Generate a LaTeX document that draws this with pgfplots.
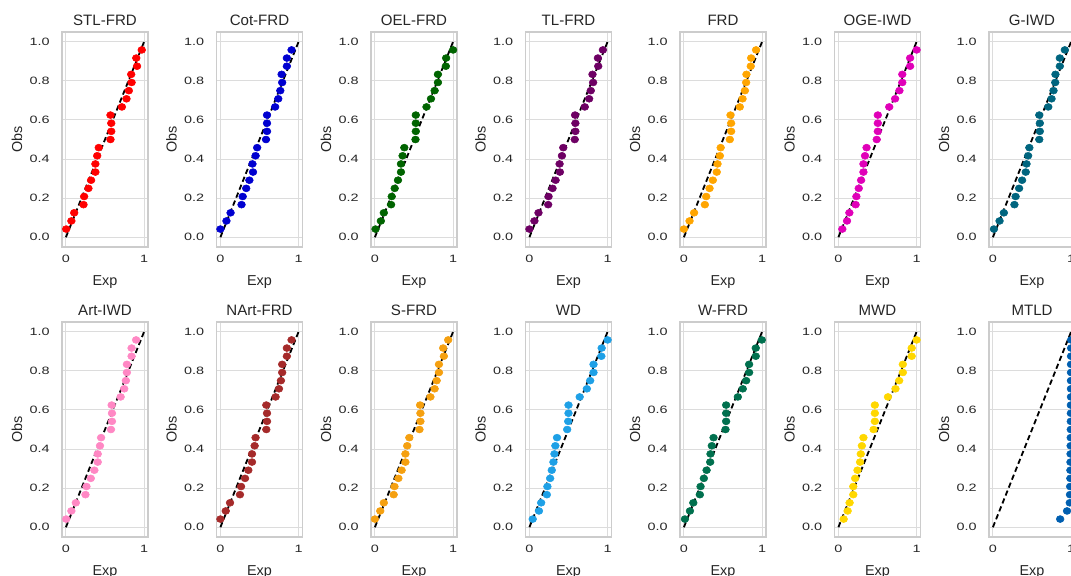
\documentclass[border=0pt]{standalone}
\usepackage{pgfplots}
\pgfplotsset{compat=1.18}
\usepackage{fontspec}
\setmainfont{Liberation Sans}
\newfontfamily\tickfont{Liberation Sans}[FakeStretch=1.35]

\definecolor{txt}{HTML}{262626}
\definecolor{gridc}{HTML}{DCDCDC}
\definecolor{framec}{HTML}{CCCCCC}
\definecolor{cSTL}{HTML}{FF0000}
\definecolor{cCot}{HTML}{0000D0}
\definecolor{cOEL}{HTML}{006400}
\definecolor{cTL}{HTML}{6E0064}
\definecolor{cFRD}{HTML}{FFA500}
\definecolor{cOGE}{HTML}{E000B8}
\definecolor{cG}{HTML}{00657F}
\definecolor{cArt}{HTML}{FF88C4}
\definecolor{cNArt}{HTML}{A52A2A}
\definecolor{cS}{HTML}{F5A010}
\definecolor{cWD}{HTML}{1EA0E6}
\definecolor{cW}{HTML}{00704E}
\definecolor{cMWD}{HTML}{FFD700}
\definecolor{cMTLD}{HTML}{005FB0}

\pgfplotsset{
  ppstyle/.style={
    scale only axis, width=64.5pt, height=161.25pt,
    anchor=north west,
    xmin=-0.05, xmax=1.05, ymin=-0.05, ymax=1.05,
    xtick={0,1}, ytick={0,0.2,0.4,0.6,0.8,1},
    /pgf/number format/assume math mode=true,
    yticklabel style={/pgf/number format/fixed, /pgf/number format/fixed zerofill, /pgf/number format/precision=1},
    ticklabel style={font=\tickfont\fontsize{8pt}{9pt}\selectfont, text=txt},
    yticklabel style={anchor=east, inner sep=0pt, xshift=-9pt},
    xticklabel style={anchor=north, inner sep=0pt, yshift=-6pt},
    major tick length=0pt, tick style={draw=none},
    grid=major, major grid style={color=gridc, line width=0.8pt},
    axis line style={color=framec, line width=1.1pt},
    title style={font=\fontsize{11.3pt}{12pt}\selectfont, text=txt, yshift=-4.5pt},
    xlabel=Exp, ylabel=Obs,
    label style={font=\fontsize{10.8pt}{12pt}\selectfont, text=txt},
    xlabel style={at={(axis description cs:0.5,0)}, anchor=north, yshift=-18pt},
    ylabel style={at={(axis description cs:-0.523,0.5)}, anchor=center},
  }
}

\newcommand{\panel}[5]{%
  \begin{axis}[ppstyle, at={(#1)}, title={#2}]
    \addplot[only marks, mark=*, color=#3, mark size=2.6pt, mark options={xscale=1.12}] coordinates {#4};
    \addplot[black, line width=1.35pt, dash pattern=on 4pt off 2.4pt] coordinates {(0,0) (1,1)};
  \end{axis}%
}

\begin{document}
\begin{tikzpicture}
% Row 1
\panel{46.5pt,-24pt}{STL-FRD}{cSTL}{(0.004,0.0417)(0.07,0.0833)(0.106,0.125)(0.225,0.1667)(0.233,0.2083)(0.288,0.25)(0.322,0.2917)(0.377,0.3333)(0.377,0.375)(0.40,0.4167)(0.42,0.4583)(0.57,0.5)(0.58,0.5417)(0.58,0.5833)(0.57,0.625)(0.716,0.6667)(0.775,0.7083)(0.805,0.75)(0.84,0.7917)(0.835,0.8333)(0.91,0.875)(0.90,0.9167)(0.97,0.9583)}{}
\panel{162.375pt,-24pt}{Cot-FRD}{cCot}{(0.0,0.0417)(0.077,0.0833)(0.13,0.125)(0.27,0.1667)(0.285,0.2083)(0.33,0.25)(0.37,0.2917)(0.417,0.3333)(0.41,0.375)(0.45,0.4167)(0.47,0.4583)(0.583,0.5)(0.596,0.5417)(0.596,0.5833)(0.596,0.625)(0.70,0.6667)(0.74,0.7083)(0.766,0.75)(0.79,0.7917)(0.783,0.8333)(0.85,0.875)(0.85,0.9167)(0.91,0.9583)}{}
\panel{278.25pt,-24pt}{OEL-FRD}{cOEL}{(0.008,0.0417)(0.076,0.0833)(0.114,0.125)(0.207,0.1667)(0.215,0.2083)(0.253,0.25)(0.295,0.2917)(0.333,0.3333)(0.333,0.375)(0.354,0.4167)(0.376,0.4583)(0.519,0.5)(0.523,0.5417)(0.523,0.5833)(0.523,0.625)(0.66,0.6667)(0.717,0.7083)(0.764,0.75)(0.806,0.7917)(0.806,0.8333)(0.907,0.875)(0.911,0.9167)(1.0,0.9583)}{}
\panel{394.125pt,-24pt}{TL-FRD}{cTL}{(0.0,0.0417)(0.064,0.0833)(0.116,0.125)(0.24,0.1667)(0.245,0.2083)(0.296,0.25)(0.335,0.2917)(0.39,0.3333)(0.386,0.375)(0.416,0.4167)(0.433,0.4583)(0.58,0.5)(0.588,0.5417)(0.588,0.5833)(0.584,0.625)(0.708,0.6667)(0.764,0.7083)(0.785,0.75)(0.815,0.7917)(0.807,0.8333)(0.88,0.875)(0.876,0.9167)(0.94,0.9583)}{}
\panel{510pt,-24pt}{FRD}{cFRD}{(0.0,0.0417)(0.072,0.0833)(0.13,0.125)(0.268,0.1667)(0.285,0.2083)(0.328,0.25)(0.37,0.2917)(0.42,0.3333)(0.43,0.375)(0.46,0.4167)(0.47,0.4583)(0.587,0.5)(0.604,0.5417)(0.604,0.5833)(0.596,0.625)(0.715,0.6667)(0.75,0.7083)(0.78,0.75)(0.796,0.7917)(0.80,0.8333)(0.855,0.875)(0.86,0.9167)(0.923,0.9583)}{}
\panel{625.875pt,-24pt}{OGE-IWD}{cOGE}{(0.05,0.0417)(0.11,0.0833)(0.14,0.125)(0.22,0.1667)(0.23,0.2083)(0.26,0.25)(0.29,0.2917)(0.32,0.3333)(0.32,0.375)(0.34,0.4167)(0.36,0.4583)(0.49,0.5)(0.504,0.5417)(0.504,0.5833)(0.504,0.625)(0.65,0.6667)(0.725,0.7083)(0.78,0.75)(0.817,0.7917)(0.817,0.8333)(0.917,0.875)(0.917,0.9167)(1.0,0.9583)}{}
\panel{741.75pt,-24pt}{G-IWD}{cG}{(0.013,0.0417)(0.085,0.0833)(0.14,0.125)(0.275,0.1667)(0.29,0.2083)(0.335,0.25)(0.373,0.2917)(0.42,0.3333)(0.43,0.375)(0.45,0.4167)(0.466,0.4583)(0.593,0.5)(0.60,0.5417)(0.60,0.5833)(0.593,0.625)(0.708,0.6667)(0.75,0.7083)(0.775,0.75)(0.797,0.7917)(0.80,0.8333)(0.856,0.875)(0.856,0.9167)(0.92,0.9583)}{}
% Row 2
\panel{46.5pt,-241.5pt}{Art-IWD}{cArt}{(0.004,0.0417)(0.07,0.0833)(0.127,0.125)(0.25,0.1667)(0.263,0.2083)(0.318,0.25)(0.364,0.2917)(0.407,0.3333)(0.407,0.375)(0.436,0.4167)(0.45,0.4583)(0.576,0.5)(0.589,0.5417)(0.589,0.5833)(0.585,0.625)(0.70,0.6667)(0.746,0.7083)(0.767,0.75)(0.78,0.7917)(0.78,0.8333)(0.84,0.875)(0.84,0.9167)(0.898,0.9583)}{}
\panel{162.375pt,-241.5pt}{NArt-FRD}{cNArt}{(0.0,0.0417)(0.068,0.0833)(0.123,0.125)(0.25,0.1667)(0.264,0.2083)(0.315,0.25)(0.357,0.2917)(0.404,0.3333)(0.404,0.375)(0.438,0.4167)(0.45,0.4583)(0.587,0.5)(0.596,0.5417)(0.596,0.5833)(0.587,0.625)(0.706,0.6667)(0.749,0.7083)(0.774,0.75)(0.79,0.7917)(0.79,0.8333)(0.85,0.875)(0.85,0.9167)(0.91,0.9583)}{}
\panel{278.25pt,-241.5pt}{S-FRD}{cS}{(0.0,0.0417)(0.068,0.0833)(0.114,0.125)(0.24,0.1667)(0.25,0.2083)(0.30,0.25)(0.342,0.2917)(0.39,0.3333)(0.39,0.375)(0.413,0.4167)(0.44,0.4583)(0.57,0.5)(0.582,0.5417)(0.582,0.5833)(0.578,0.625)(0.71,0.6667)(0.764,0.7083)(0.79,0.75)(0.819,0.7917)(0.819,0.8333)(0.882,0.875)(0.873,0.9167)(0.937,0.9583)}{}
\panel{394.125pt,-241.5pt}{WD}{cWD}{(0.042,0.0417)(0.122,0.0833)(0.15,0.125)(0.223,0.1667)(0.23,0.2083)(0.265,0.25)(0.286,0.2917)(0.307,0.3333)(0.32,0.375)(0.332,0.4167)(0.353,0.4583)(0.483,0.5)(0.496,0.5417)(0.50,0.5833)(0.50,0.625)(0.643,0.6667)(0.735,0.7083)(0.777,0.75)(0.82,0.7917)(0.82,0.8333)(0.92,0.875)(0.924,0.9167)(1.0,0.9583)}{}
\panel{510pt,-241.5pt}{W-FRD}{cW}{(0.013,0.0417)(0.077,0.0833)(0.12,0.125)(0.204,0.1667)(0.213,0.2083)(0.255,0.25)(0.29,0.2917)(0.336,0.3333)(0.34,0.375)(0.357,0.4167)(0.379,0.4583)(0.532,0.5)(0.54,0.5417)(0.54,0.5833)(0.54,0.625)(0.69,0.6667)(0.753,0.7083)(0.796,0.75)(0.834,0.7917)(0.834,0.8333)(0.919,0.875)(0.919,0.9167)(0.996,0.9583)}{}
\panel{625.875pt,-241.5pt}{MWD}{cMWD}{(0.067,0.0417)(0.118,0.0833)(0.143,0.125)(0.19,0.1667)(0.19,0.2083)(0.214,0.25)(0.244,0.2917)(0.277,0.3333)(0.286,0.375)(0.30,0.4167)(0.32,0.4583)(0.45,0.5)(0.466,0.5417)(0.466,0.5833)(0.466,0.625)(0.634,0.6667)(0.73,0.7083)(0.777,0.75)(0.824,0.7917)(0.824,0.8333)(0.937,0.875)(0.937,0.9167)(1.0,0.9583)}{}
\panel{741.75pt,-241.5pt}{MTLD}{cMTLD}{(0.86,0.0417)(0.948,0.0833)(0.983,0.125)(0.986,0.1667)(0.988,0.2083)(0.99,0.25)(0.991,0.2917)(0.992,0.3333)(0.993,0.375)(0.994,0.4167)(0.995,0.4583)(0.996,0.5)(0.996,0.5417)(0.997,0.5833)(0.997,0.625)(0.998,0.6667)(0.998,0.7083)(0.998,0.75)(0.999,0.7917)(0.999,0.8333)(0.999,0.875)(1.0,0.9167)(1.0,0.9583)}{}
\pgfresetboundingbox
\path[use as bounding box] (0,0) rectangle (803.25pt,-431.25pt);
\end{tikzpicture}
\end{document}
